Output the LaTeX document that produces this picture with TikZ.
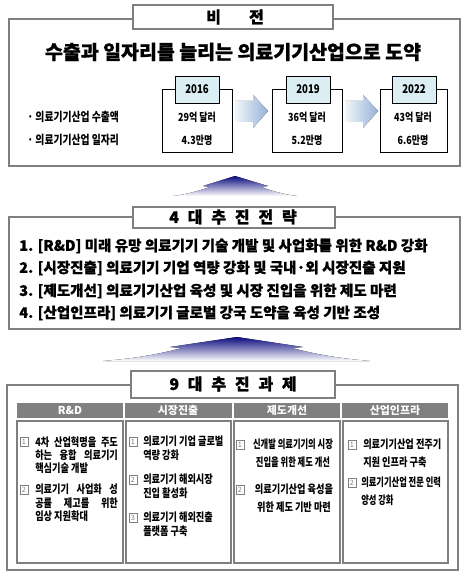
\documentclass[tikz,border=0pt]{standalone}
\usepackage{fontspec}
\setmainfont{Noto Sans CJK KR}
\newfontfamily\krnarrow{Noto Sans CJK KR}[FakeStretch=0.8]
\newfontfamily\krnarrower{Noto Sans CJK KR}[FakeStretch=0.72]
\newfontfamily\krheavy{Noto Sans CJK KR}[FakeBold=0.8]
\usepackage{xcolor}
\usepackage{tikz}

\definecolor{panelgray}{HTML}{7F7F7F}
\definecolor{headcyan}{HTML}{DAEEF3}
\definecolor{colgray}{HTML}{808080}
\definecolor{upnavy}{HTML}{0C0C80}
\definecolor{arrowlight}{HTML}{F2F6FB}
\definecolor{arrowblue}{HTML}{95B3D7}

\newcommand{\titlegap}{\hspace{0.55em}}

\tikzset{
  panel/.style={draw=panelgray, line width=1.2pt},
  titlebox/.style={draw=panelgray, line width=1.2pt, fill=white},
  titletext/.style={inner sep=0.75pt, font=\krheavy\bfseries\fontsize{12}{14}\selectfont},
  yearbox/.style={draw=black, line width=0.6pt},
  yearhead/.style={draw=black, line width=0.6pt, fill=headcyan},
  yeartext/.style={inner sep=0.75pt, font=\krnarrow\bfseries\fontsize{9}{11}\selectfont},
  valtext/.style={inner sep=0.75pt, font=\krnarrow\bfseries\fontsize{8.4}{10}\selectfont},
  bullettext/.style={anchor=west, inner sep=0.75pt, font=\krnarrow\bfseries\fontsize{9.2}{11}\selectfont},
  rightarrow/.style={left color=arrowlight, right color=arrowblue, draw=none},
  uparrow/.style={top color=upnavy, bottom color=white, draw=none},
  strattext/.style={anchor=west, inner sep=0.75pt, font=\krheavy\bfseries\fontsize{10.9}{13}\selectfont},
  colhead/.style={fill=colgray, draw=none},
  colheadtext/.style={inner sep=0.75pt, text=white, font=\bfseries\fontsize{8.2}{10}\selectfont},
  colbox/.style={draw=panelgray, line width=1.1pt},
  numbox/.style={draw=gray, text=gray, inner sep=0pt, minimum width=6pt, minimum height=7pt, font=\fontsize{5.5}{6}\selectfont},
  tasktext/.style={inner sep=0pt, align=left, font=\krnarrow\bfseries\fontsize{8.6}{10.1}\selectfont},
  tasktextwide/.style={inner sep=0pt, font=\krnarrow\bfseries\fontsize{8.6}{12.8}\selectfont}
}

\begin{document}
\begin{tikzpicture}[x=0.75pt,y=0.75pt,yscale=-1,xscale=1]
\useasboundingbox (0,0) rectangle (473,584);

%Shape: Rectangle [vision panel]
\draw [panel] (9,19) -- (460,19) -- (460,166) -- (9,166) -- cycle ;
%Shape: Rectangle [vision title]
\draw [titlebox] (133,5) -- (333,5) -- (333,29) -- (133,29) -- cycle ;
% Text Node
\draw (235,17) node (vision) [titletext] {비\hspace{1.75em}전};
% Text Node
\draw (233,52) node (headline) [inner sep=0.75pt, font=\krheavy\bfseries\fontsize{14.6}{16}\selectfont] {수출과 일자리를 늘리는 의료기기산업으로 도약};

% Text Node
\draw (26,117) node (export) [bullettext] {·\ 의료기기산업 수출액};
% Text Node
\draw (26,140) node (jobs) [bullettext] {·\ 의료기기산업 일자리};

%Shape: Rectangle [2016]
\draw [yearbox] (162,89) -- (232,89) -- (232,152) -- (162,152) -- cycle ;
\draw [yearhead] (175,76) -- (219,76) -- (219,103) -- (175,103) -- cycle ;
%Shape: Rectangle [2019]
\draw [yearbox] (272,89) -- (342,89) -- (342,152) -- (272,152) -- cycle ;
\draw [yearhead] (286,76) -- (330,76) -- (330,103) -- (286,103) -- cycle ;
%Shape: Rectangle [2022]
\draw [yearbox] (380,89) -- (447,89) -- (447,152) -- (380,152) -- cycle ;
\draw [yearhead] (392,76) -- (436,76) -- (436,103) -- (392,103) -- cycle ;

% Text Node
\draw (197,89) node (y2016) [yeartext] {2016};
\draw (197,117) node (exp2016) [valtext] {29억 달러};
\draw (197,140) node (job2016) [valtext] {4.3만명};
% Text Node
\draw (308,89) node (y2019) [yeartext] {2019};
\draw (307,117) node (exp2019) [valtext] {36억 달러};
\draw (307,140) node (job2019) [valtext] {5.2만명};
% Text Node
\draw (414,89) node (y2022) [yeartext] {2022};
\draw (413,117) node (exp2022) [valtext] {43억 달러};
\draw (413,140) node (job2022) [valtext] {6.6만명};

%Shape: Right Arrow
\fill [rightarrow] (235,101) -- (253,101) -- (253,95) -- (268,111) -- (253,128) -- (253,122) -- (235,122) -- cycle ;
%Shape: Right Arrow
\fill [rightarrow] (345,101) -- (363,101) -- (363,95) -- (378,111) -- (363,128) -- (363,122) -- (345,122) -- cycle ;

%Shape: Up Arrow
\fill [uparrow] (235,176) -- (203,186) -- (210,187) .. controls (192,193) and (182,195) .. (173,196) -- (297,196) .. controls (288,195) and (278,193) .. (261,187) -- (268,186) -- cycle ;

%Shape: Rectangle [strategy panel]
\draw [panel] (9,217) -- (460,217) -- (460,329) -- (9,329) -- cycle ;
%Shape: Rectangle [strategy title]
\draw [titlebox] (133,207) -- (335,207) -- (335,228) -- (133,228) -- cycle ;
% Text Node
\draw (233,217) node (strategy) [titletext] {4\titlegap 대\titlegap 추\titlegap 진\titlegap 전\titlegap 략};

% Text Node
\draw (18,246) node (strat1) [strattext] {1. [R\&D] 미래 유망 의료기기 기술 개발 및 사업화를 위한 R\&D 강화};
% Text Node
\draw (18,268) node (strat2) [strattext] {2. [시장진출] 의료기기 기업 역량 강화 및 국내·외 시장진출 지원};
% Text Node
\draw (18,291) node (strat3) [strattext] {3. [제도개선] 의료기기산업 육성 및 시장 진입을 위한 제도 마련};
% Text Node
\draw (18,313) node (strat4) [strattext] {4. [산업인프라] 의료기기 글로벌 강국 도약을 육성 기반 조성};

%Shape: Up Arrow
\fill [uparrow] (237,337) -- (170,347) -- (182,348) .. controls (152,356) and (127,359) .. (103,361) -- (370,361) .. controls (347,359) and (322,356) .. (292,348) -- (303,347) -- cycle ;

%Shape: Rectangle [task panel]
\draw [panel] (7,385) -- (458,385) -- (458,570) -- (7,570) -- cycle ;
%Shape: Rectangle [task title]
\draw [titlebox] (131,371) -- (335,371) -- (335,398) -- (131,398) -- cycle ;
% Text Node
\draw (233,384) node (tasks) [titletext] {9\titlegap 대\titlegap 추\titlegap 진\titlegap 과\titlegap 제};

%Shape: Rectangle [column heads]
\fill [colhead] (17,403) -- (123,403) -- (123,418) -- (17,418) -- cycle ;
\fill [colhead] (125,403) -- (232,403) -- (232,418) -- (125,418) -- cycle ;
\fill [colhead] (234,403) -- (340,403) -- (340,418) -- (234,418) -- cycle ;
\fill [colhead] (342,403) -- (448,403) -- (448,418) -- (342,418) -- cycle ;
%Shape: Rectangle [column boxes]
\draw [colbox] (17,421) -- (123,421) -- (123,563) -- (17,563) -- cycle ;
\draw [colbox] (126,421) -- (231,421) -- (231,563) -- (126,563) -- cycle ;
\draw [colbox] (234,421) -- (340,421) -- (340,563) -- (234,563) -- cycle ;
\draw [colbox] (343,421) -- (448,421) -- (448,563) -- (343,563) -- cycle ;

% Text Node
\draw (70,410) node (rnd) [colheadtext] {R\&D};
\draw (178,410) node (market) [colheadtext] {시장진출};
\draw (287,410) node (reform) [colheadtext] {제도개선};
\draw (395,410) node (infra) [colheadtext] {산업인프라};

% R&D column
\draw (24,442) node (rndn1) [numbox] {1};
\draw (35,436) node (rndt1) [tasktext, anchor=north west] {\makebox[62pt][s]{4차 산업혁명을 주도}\\\makebox[62pt][s]{하는 융합 의료기기}\\핵심기술 개발};
\draw (24,490) node (rndn2) [numbox] {2};
\draw (35,484) node (rndt2) [tasktext, anchor=north west] {\makebox[62pt][s]{의료기기 사업화 성}\\\makebox[62pt][s]{공률 제고를 위한}\\임상 지원확대};

% market column
\draw (133,442) node (marketn1) [numbox] {1};
\draw (143,436) node (markett1) [tasktext, anchor=north west] {의료기기 기업 글로벌\\역량 강화};
\draw (133,480) node (marketn2) [numbox] {2};
\draw (143,474) node (markett2) [tasktext, anchor=north west] {의료기기 해외시장\\진입 활성화};
\draw (133,518) node (marketn3) [numbox] {3};
\draw (143,512) node (markett3) [tasktext, anchor=north west] {의료기기 해외진출\\플랫폼 구축};

% reform column
\draw (240,445) node (reformn1) [numbox] {1};
\draw (293,439) node (reformt1) [tasktextwide, align=center, anchor=north, font=\krnarrower\bfseries\fontsize{8.6}{12.8}\selectfont] {신개발 의료기기의 시장\\진입을 위한 제도 개선};
\draw (240,490) node (reformn2) [numbox] {2};
\draw (294,484) node (reformt2) [tasktextwide, align=center, anchor=north] {의료기기산업 육성을\\위한 제도 기반 마련};

% infra column
\draw (352,445) node (infran1) [numbox] {1};
\draw (363,439) node (infrat1) [tasktextwide, align=left, anchor=north west] {의료기기산업 전주기\\지원 인프라 구축};
\draw (352,483) node (infran2) [numbox] {2};
\draw (361,477) node (infrat2) [tasktextwide, align=left, anchor=north west, font=\krnarrower\bfseries\fontsize{8.6}{12.8}\selectfont] {의료기기산업 전문 인력\\양성 강화};

\end{tikzpicture}
\end{document}
